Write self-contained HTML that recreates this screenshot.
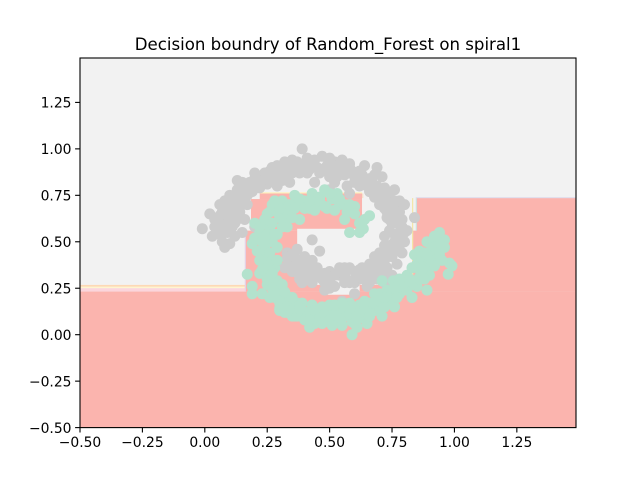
<!DOCTYPE html>
<html lang="en">
<head>
<meta charset="utf-8">
<title>Decision boundry of Random_Forest on spiral1</title>
<style>
html,body{margin:0;padding:0;background:#fff;width:640px;height:480px;overflow:hidden}
svg{display:block}
text{font-family:"DejaVu Sans",sans-serif;fill:#000}
</style>
</head>
<body>
<svg id="chart" xmlns="http://www.w3.org/2000/svg" width="640" height="480" viewBox="0 0 640 480">
<text x="328" y="50" font-size="16.6" text-anchor="middle">Decision boundry of Random_Forest on spiral1</text>
<g id="regions"></g>
<g id="pointsA"></g>
<g id="pointsB"></g>
<g id="axes"></g>
</svg>
<script>
var xTicks = [-0.5, -0.25, 0, 0.25, 0.5, 0.75, 1, 1.25];
var xTickLabels = ["\u22120.50", "\u22120.25", "0.00", "0.25", "0.50", "0.75", "1.00", "1.25"];
var yTicks = [-0.5, -0.25, 0, 0.25, 0.5, 0.75, 1, 1.25];
var yTickLabels = ["\u22120.50", "\u22120.25", "0.00", "0.25", "0.50", "0.75", "1.00", "1.25"];
var xDomain = [-0.5, 1.487];
var yDomain = [-0.5, 1.489];

// [xMin, xMax, yMin, yMax, colour] in data units, painted in order
var boundaryRegions = [
  [-0.5, 1.487, -0.5, 1.489, "#f2f2f2"],
  [-0.5, 0.165, 0.258, 0.268, "#fdd9b5"],
  [-0.5, 0.165, 0.25, 0.258, "#fff5cf"],
  [-0.5, 0.165, 0.232, 0.25, "#fbd5dc"],
  [-0.5, 1.487, -0.5, 0.232, "#fbb4ae"],
  [0.85, 1.487, 0.232, 0.735, "#fbb4ae"],
  [0.845, 1.487, 0.735, 0.739, "#d8d4e8"],
  [0.845, 0.85, 0.232, 0.735, "#cfe0dc"],
  [0.165, 0.85, 0.232, 0.56, "#fbb4ae"],
  [0.16, 0.165, 0.232, 0.56, "#e6d0e4"],
  [0.185, 0.63, 0.56, 0.73, "#fbb4ae"],
  [0.22, 0.63, 0.73, 0.76, "#fbb4ae"],
  [0.22, 0.63, 0.76, 0.766, "#fff2b8"],
  [0.63, 0.635, 0.56, 0.76, "#f6e0c8"],
  [0.37, 0.83, 0.268, 0.57, "#f2f2f2"],
  [0.63, 0.83, 0.57, 0.735, "#f2f2f2"],
  [0.48, 0.62, 0.215, 0.268, "#f2f2f2"],
  [0.79, 0.85, 0.232, 0.3, "#fbb4ae"],
  [0.83, 0.835, 0.3, 0.735, "#f3e6a8"]
];

var grayX = [-0.01,0.02,0.03,0.05,0.07,0.06,0.08,0.1,0.09,0.1,0.12,0.13,0.14,0.13,0.15,0.15,0.17,0.17,0.19,0.2,0.22,0.22,0.24,0.25,0.27,0.28,0.3,0.32,0.33,0.35,0.35,0.38,0.39,0.4,0.42,0.44,0.46,0.47,0.49,0.5,0.52,0.53,0.55,0.56,0.58,0.6,0.57,0.62,0.64,0.63,0.66,0.69,0.67,0.71,0.7,0.72,0.74,0.76,0.73,0.76,0.78,0.8,0.79,0.84,0.81,0.75,0.78,0.8,0.76,0.79,0.72,0.75,0.77,0.73,0.7,0.75,0.72,0.68,0.66,0.69,0.63,0.65,0.6,0.62,0.58,0.56,0.6,0.54,0.52,0.5,0.55,0.47,0.45,0.48,0.43,0.41,0.43,0.38,0.36,0.4,0.33,0.35,0.37,0.43,0.46,0.12,0.08,0.1,0.15,0.2,0.16,0.44,0.29,0.31,0.34,0.5,0.52,0.62,0.58,0.74,0.68,
  0.04,0.06,0.08,0.10,0.12,0.04,0.06,0.08,0.11,0.13,
  0.07,0.09,0.11,0.13,0.15,0.17,0.12,0.14,0.16,0.18,
  0.19,0.21,0.23,0.25,0.27,0.29,0.31,0.2,0.24,0.26,
  0.29,0.31,0.33,0.35,0.37,0.39,0.41,0.43,0.45,0.47,
  0.49,0.51,0.53,0.55,0.57,0.59,0.61,0.63,0.37,0.41,
  0.5,0.52,0.54,0.58,0.6,0.62,0.65,0.67,0.69,0.71,
  0.66,0.68,0.7,0.72,0.74,0.7,0.72,0.74,0.76,0.78,
  0.73,0.75,0.77,0.79,0.74,0.76,0.78,0.8,0.72,0.74,
  0.76,0.78,0.7,0.72,0.74,0.68,0.7,0.72,0.66,0.68,
  0.64,0.6,0.62,0.64,0.66,0.56,0.58,0.6,0.54,0.56,
  0.5,0.52,0.48,0.5,0.46,0.48,0.44,0.42,0.4,0.38,
  0.36,0.34,0.38,0.4,0.36,0.42,0.35,0.33,0.32,0.39];
var grayY = [0.57,0.65,0.53,0.6,0.5,0.7,0.62,0.68,0.55,0.75,0.6,0.78,0.66,0.83,0.82,0.72,0.8,0.7,0.77,0.84,0.85,0.79,0.87,0.81,0.9,0.84,0.88,0.93,0.86,0.9,0.94,0.87,1.0,0.92,0.89,0.94,0.87,0.96,0.91,0.85,0.93,0.88,0.94,0.86,0.9,0.85,0.8,0.88,0.91,0.81,0.84,0.9,0.78,0.85,0.74,0.79,0.7,0.78,0.66,0.68,0.72,0.7,0.62,0.63,0.56,0.6,0.55,0.5,0.5,0.44,0.53,0.42,0.38,0.36,0.4,0.32,0.28,0.37,0.33,0.3,0.36,0.26,0.34,0.3,0.28,0.36,0.22,0.32,0.26,0.34,0.18,0.3,0.36,0.24,0.28,0.34,0.4,0.3,0.38,0.42,0.44,0.34,0.46,0.51,0.45,0.53,0.47,0.49,0.55,0.58,0.62,0.82,0.8,0.83,0.82,0.78,0.82,0.8,0.76,0.62,0.86,
  0.58,0.64,0.58,0.63,0.7,0.62,0.54,0.72,0.58,0.62,
  0.66,0.72,0.72,0.74,0.76,0.75,0.66,0.7,0.78,0.82,
  0.8,0.8,0.83,0.85,0.86,0.86,0.86,0.87,0.84,0.88,
  0.91,0.89,0.91,0.87,0.9,0.9,0.87,0.91,0.9,0.89,
  0.88,0.9,0.85,0.9,0.87,0.88,0.83,0.86,0.93,0.95,
  0.95,0.87,0.92,0.92,0.82,0.86,0.8,0.82,0.8,0.77,
  0.77,0.74,0.78,0.74,0.72,0.7,0.68,0.76,0.72,0.66,
  0.63,0.64,0.6,0.58,0.56,0.54,0.52,0.55,0.48,0.48,
  0.46,0.48,0.44,0.4,0.44,0.42,0.36,0.33,0.38,0.34,
  0.3,0.28,0.35,0.33,0.28,0.32,0.36,0.3,0.36,0.28,
  0.29,0.32,0.33,0.25,0.31,0.28,0.32,0.3,0.32,0.33,
  0.34,0.4,0.38,0.37,0.42,0.37,0.43,0.41,0.36,0.28];

var greenX = [0.17,0.19,0.19,0.23,0.19,0.2,0.22,0.23,0.24,0.22,0.25,0.26,0.27,0.24,0.28,0.29,0.25,0.27,0.3,0.28,0.3,0.32,0.31,0.27,0.29,0.25,0.33,0.36,0.37,0.34,0.4,0.43,0.45,0.48,0.46,0.51,0.54,0.57,0.6,0.56,0.53,0.49,0.42,0.38,0.33,0.58,0.62,0.635,0.66,0.64,0.3,0.33,0.36,0.39,0.42,0.42,0.45,0.48,0.51,0.54,0.47,0.5,0.53,0.56,0.59,0.59,0.62,0.65,0.68,0.71,0.58,0.62,0.66,0.7,0.73,0.76,0.71,0.755,0.81,0.78,0.74,0.83,0.85,0.84,0.89,0.87,0.9,0.93,0.96,0.94,0.98,0.99,0.975,0.89,0.86,0.82,0.79,0.91,0.94,0.9,0.35,0.39,0.44,0.66,0.61,0.55,0.37,0.3,0.34,0.26,0.31,0.85,
  0.2,0.22,0.24,0.26,0.21,0.23,0.25,0.27,0.29,0.22,
  0.24,0.26,0.28,0.23,0.25,0.27,0.29,0.25,0.27,0.29,
  0.27,0.29,0.31,0.28,0.3,0.32,0.3,0.33,0.35,0.32,
  0.35,0.37,0.39,0.41,0.43,0.38,0.4,0.42,0.44,0.46,
  0.48,0.5,0.52,0.54,0.56,0.58,0.6,0.47,0.51,0.55,
  0.62,0.64,0.66,0.68,0.7,0.72,0.74,0.6,0.64,0.68,
  0.7,0.73,0.75,0.77,0.79,0.81,0.72,0.76,0.8,0.78,
  0.82,0.84,0.86,0.88,0.83,0.85,0.87,0.89,0.86,0.88,
  0.9,0.92,0.94,0.91,0.93,0.95,0.96,0.92,0.89,0.87,
  0.3,0.32,0.34,0.36,0.38,0.4,0.42,0.44,0.46,0.48,
  0.5,0.52,0.54,0.56,0.58,0.6,0.62,0.31,0.35,0.28];
var greenY = [0.325,0.22,0.26,0.22,0.49,0.6,0.55,0.45,0.38,0.33,0.31,0.58,0.5,0.42,0.36,0.29,0.65,0.7,0.63,0.27,0.22,0.2,0.72,0.25,0.54,0.27,0.66,0.75,0.7,0.18,0.72,0.76,0.7,0.78,0.74,0.73,0.7,0.66,0.69,0.62,0.76,0.68,0.68,0.62,0.58,0.55,0.55,0.57,0.64,0.62,0.14,0.12,0.1,0.13,0.04,0.09,0.12,0.07,0.11,0.07,0.15,0.16,0.13,0.1,0.0,0.07,0.09,0.06,0.13,0.1,0.17,0.16,0.17,0.14,0.17,0.15,0.29,0.29,0.32,0.22,0.22,0.2,0.26,0.43,0.5,0.35,0.32,0.42,0.51,0.55,0.385,0.37,0.325,0.24,0.31,0.28,0.25,0.38,0.43,0.44,0.1,0.1,0.06,0.1,0.04,0.05,0.17,0.17,0.2,0.2,0.25,0.36,
  0.52,0.58,0.62,0.66,0.45,0.5,0.54,0.6,0.66,0.4,
  0.48,0.44,0.54,0.35,0.36,0.4,0.47,0.3,0.33,0.4,
  0.25,0.22,0.27,0.2,0.18,0.23,0.13,0.15,0.2,0.12,
  0.13,0.1,0.17,0.12,0.16,0.14,0.08,0.08,0.13,0.09,
  0.11,0.08,0.16,0.1,0.14,0.11,0.14,0.06,0.05,0.17,
  0.12,0.13,0.1,0.17,0.18,0.15,0.2,0.06,0.18,0.22,
  0.22,0.24,0.19,0.2,0.26,0.24,0.2,0.25,0.28,0.3,
  0.3,0.27,0.3,0.3,0.36,0.38,0.41,0.37,0.45,0.44,
  0.41,0.37,0.45,0.47,0.5,0.4,0.47,0.53,0.43,0.35,
  0.68,0.62,0.7,0.68,0.73,0.68,0.72,0.67,0.72,0.69,
  0.76,0.67,0.73,0.7,0.7,0.65,0.6,0.58,0.63,0.72];

var NS = "http://www.w3.org/2000/svg";
var plot = {left: 80, right: 576, top: 58, bottom: 427.6};
function sx(v) { return plot.left + (v - xDomain[0]) / (xDomain[1] - xDomain[0]) * (plot.right - plot.left); }
function sy(v) { return plot.bottom - (v - yDomain[0]) / (yDomain[1] - yDomain[0]) * (plot.bottom - plot.top); }
function mk(tag, attrs, parent) {
  var el = document.createElementNS(NS, tag);
  for (var k in attrs) el.setAttribute(k, attrs[k]);
  parent.appendChild(el);
  return el;
}
var regionsG = document.getElementById("regions");
boundaryRegions.forEach(function (r) {
  var el = mk("rect", {x: sx(r[0]), y: sy(r[3]), width: sx(r[1]) - sx(r[0]), height: sy(r[2]) - sy(r[3]), fill: r[4]}, regionsG);
  
  
});
var gA = document.getElementById("pointsA");
grayX.forEach(function (x, i) {
  var el = mk("circle", {cx: sx(x), cy: sy(grayY[i]), r: 5.5, fill: "#cccccc"}, gA);
  
  
});
var gB = document.getElementById("pointsB");
greenX.forEach(function (x, i) {
  var el = mk("circle", {cx: sx(x), cy: sy(greenY[i]), r: 5.5, fill: "#b3e2cd"}, gB);
  
  
});
var axes = document.getElementById("axes");
xTicks.forEach(function (t, i) {
  var x = sx(t);
  var tick = mk("line", {x1: x, x2: x, y1: plot.bottom, y2: plot.bottom + 4.9, stroke: "#000", "stroke-width": 1.1}, axes);
  
  
  var lab = mk("text", {x: x, y: plot.bottom + 19.5, "font-size": 13.89, "text-anchor": "middle"}, axes);
  lab.textContent = xTickLabels[i];
  
  
});
yTicks.forEach(function (t, i) {
  var y = sy(t);
  var tick = mk("line", {x1: plot.left - 4.9, x2: plot.left, y1: y, y2: y, stroke: "#000", "stroke-width": 1.1}, axes);
  
  
  var lab = mk("text", {x: plot.left - 8.5, y: y + 5.2, "font-size": 13.89, "text-anchor": "end"}, axes);
  lab.textContent = yTickLabels[i];
  
  
});
var frame = mk("rect", {x: plot.left, y: plot.top, width: plot.right - plot.left, height: plot.bottom - plot.top, fill: "none", stroke: "#000", "stroke-width": 1.1}, axes);


</script>
</body>
</html>
